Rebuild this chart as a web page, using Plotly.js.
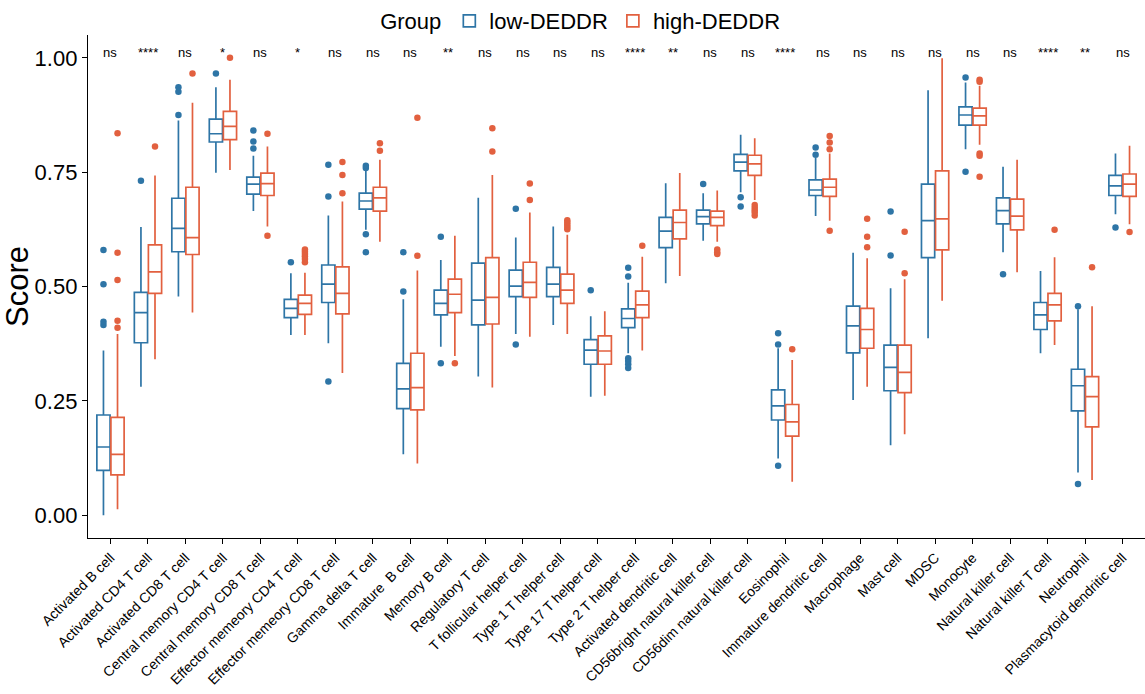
<!DOCTYPE html>
<html>
<head>
<meta charset="utf-8">
<script src="https://cdn.plot.ly/plotly-3.0.1.min.js"></script>
<style>html,body{margin:0;padding:0;background:#fff;}#chart{width:1145px;height:694px;}</style>
</head>
<body>
<div id="chart"></div>
<script>
const categories = ["Activated B cell","Activated CD4 T cell","Activated CD8 T cell","Central memory CD4 T cell","Central memory CD8 T cell","Effector memeory CD4 T cell","Effector memeory CD8 T cell","Gamma delta T cell","Immature \u00a0B cell","Memory B cell","Regulatory T cell","T follicular helper cell","Type 1 T helper cell","Type 17 T helper cell","Type 2 T helper cell","Activated dendritic cell","CD56bright natural killer cell","CD56dim natural killer cell","Eosinophil","Immature dendritic cell","Macrophage","Mast cell","MDSC","Monocyte","Natural killer cell","Natural killer T cell","Neutrophil","Plasmacytoid dendritic cell"];

const significance = ["ns","****","ns","*","ns","*","ns","ns","ns","**","ns","ns","ns","ns","****","**","ns","ns","****","ns","ns","ns","ns","ns","ns","****","**","ns"];

// low-DEDDR
const lowLower  = [0.000,0.281,0.478,0.749,0.665,0.394,0.376,0.624,0.133,0.368,0.303,0.396,0.416,0.259,0.354,0.507,0.600,0.706,0.124,0.654,0.252,0.153,0.387,0.800,0.575,0.354,0.093,0.658];
const lowQ1     = [0.098,0.377,0.576,0.816,0.702,0.432,0.465,0.669,0.233,0.438,0.416,0.478,0.478,0.330,0.410,0.585,0.637,0.753,0.208,0.699,0.355,0.272,0.563,0.853,0.637,0.406,0.228,0.699];
const lowMedian = [0.149,0.443,0.627,0.834,0.724,0.452,0.505,0.687,0.276,0.463,0.470,0.501,0.505,0.361,0.430,0.621,0.653,0.772,0.239,0.711,0.414,0.323,0.644,0.875,0.666,0.438,0.283,0.720];
const lowQ3     = [0.219,0.487,0.693,0.866,0.739,0.472,0.547,0.704,0.332,0.492,0.551,0.536,0.542,0.384,0.451,0.651,0.667,0.789,0.274,0.733,0.457,0.372,0.724,0.893,0.694,0.465,0.319,0.743];
const lowUpper  = [0.360,0.630,0.863,0.936,0.786,0.529,0.655,0.755,0.472,0.558,0.694,0.607,0.631,0.435,0.508,0.726,0.704,0.832,0.365,0.781,0.574,0.496,0.929,0.946,0.762,0.534,0.450,0.791];
const lowOutliers = [
  [0.580,0.505,0.423,0.416],[0.731],[0.875,0.926,0.936],[0.966],[0.802,0.817,0.841],[0.553],
  [0.766,0.697,0.292],[0.764,0.759,0.614,0.575],[0.575,0.489],[0.609,0.332],[],[0.670,0.373],
  [],[0.492],[0.541,0.522,0.343,0.337,0.330,0.322],[],[0.724],[0.695,0.675],[0.398,0.373,0.108],
  [0.804,0.788],[],[0.664,0.568],[],[0.957,0.751],[0.527],[],[0.457,0.068],[0.629]
];

// high-DEDDR
const highLower  = [0.013,0.341,0.443,0.755,0.631,0.394,0.311,0.598,0.113,0.348,0.279,0.390,0.396,0.261,0.360,0.523,0.598,0.689,0.073,0.644,0.281,0.177,0.469,0.810,0.531,0.372,0.077,0.636];
const highQ1     = [0.088,0.485,0.570,0.821,0.699,0.439,0.440,0.665,0.230,0.443,0.418,0.476,0.463,0.330,0.432,0.604,0.633,0.743,0.173,0.697,0.365,0.268,0.580,0.853,0.624,0.425,0.193,0.697];
const highMedian = [0.133,0.532,0.607,0.850,0.725,0.463,0.485,0.694,0.279,0.483,0.476,0.509,0.492,0.359,0.460,0.640,0.651,0.768,0.204,0.717,0.406,0.312,0.648,0.873,0.654,0.460,0.259,0.724];
const highQ3     = [0.214,0.591,0.717,0.883,0.748,0.481,0.543,0.717,0.354,0.516,0.563,0.553,0.527,0.392,0.490,0.667,0.665,0.787,0.242,0.735,0.452,0.372,0.753,0.890,0.691,0.485,0.303,0.746];
const highUpper  = [0.396,0.743,0.902,0.952,0.806,0.530,0.686,0.777,0.535,0.611,0.744,0.662,0.613,0.446,0.565,0.748,0.710,0.824,0.339,0.791,0.562,0.516,0.999,0.939,0.777,0.564,0.457,0.808];
const highOutliers = [
  [0.835,0.574,0.514,0.425,0.410],[0.806],[0.966],[1.000],[0.834,0.611],[0.581,0.576,0.571,0.566,0.560,0.553],
  [0.772,0.744,0.704],[0.813,0.797],[0.869,0.567],[0.332],[0.846,0.795],[0.725,0.689],
  [0.645,0.640,0.635,0.630,0.625],[],[0.589],[],[0.581,0.575,0.571],[0.678,0.672,0.667,0.662,0.655],[0.363],
  [0.829,0.815,0.800,0.622],[0.648,0.609,0.586],[0.620,0.529],[],[0.952,0.948,0.791,0.786,0.740],[],[0.624],[0.542],[0.619]
];

const lowColor = "#2e75a6";
const highColor = "#e2603f";

function boxTrace(name, color, lo, q1, med, q3, hi, outs) {
  return {
    type: "box",
    name: name,
    x: categories,
    y: outs,
    q1: q1, median: med, q3: q3,
    lowerfence: lo, upperfence: hi,
    boxpoints: "outliers",
    jitter: 0, pointpos: 0,
    fillcolor: "#ffffff",
    line: {color: color, width: 1.7},
    marker: {color: color, size: 6.5, outliercolor: color, line: {width: 0}},
    whiskerwidth: 0,
    hoverinfo: "skip"
  };
}

const traces = [
  boxTrace("low-DEDDR", lowColor, lowLower, lowQ1, lowMedian, lowQ3, lowUpper, lowOutliers),
  boxTrace("high-DEDDR", highColor, highLower, highQ1, highMedian, highQ3, highUpper, highOutliers)
];

const annotations = categories.map((c, i) => ({
  x: c, y: 1.012, xref: "x", yref: "y",
  text: significance[i], showarrow: false,
  yanchor: "middle",
  font: {family: "Liberation Sans, Arial, sans-serif", size: 13, color: "#000"}
}));

const layout = {
  width: 1145, height: 694,
  margin: {l: 88, r: 0, t: 35, b: 156, autoexpand: false},
  paper_bgcolor: "#fff", plot_bgcolor: "#fff",
  boxmode: "group", boxgap: 0.25, boxgroupgap: 0.06,
  font: {family: "Liberation Sans, Arial, sans-serif", color: "#000"},
  showlegend: true,
  legend: {
    orientation: "h", xref: "container", yref: "container",
    x: 0.508, xanchor: "center", y: 1.0, yanchor: "top",
    title: {text: "Group", font: {size: 22}},
    font: {size: 22}, itemwidth: 30, tracegroupgap: 0
  },
  xaxis: {
    type: "category", range: [-0.6, 27.6],
    showline: true, linecolor: "#000", linewidth: 1.2,
    ticks: "outside", ticklen: 5, tickcolor: "#000",
    tickangle: -45, tickfont: {size: 14, color: "#000"},
    showgrid: false, zeroline: false, automargin: false
  },
  yaxis: {
    range: [-0.05, 1.05],
    tickvals: [0, 0.25, 0.5, 0.75, 1.0],
    ticktext: ["0.00","0.25","0.50","0.75","1.00"],
    showline: true, linecolor: "#000", linewidth: 1.2,
    ticks: "outside", ticklen: 5, tickcolor: "#000",
    tickfont: {size: 22, color: "#000"},
    title: {text: "Score", font: {size: 31}, standoff: 6},
    showgrid: false, zeroline: false, automargin: false
  },
  annotations: annotations
};

Plotly.newPlot("chart", traces, layout, {displayModeBar: false, staticPlot: true});
</script>
</body>
</html>
